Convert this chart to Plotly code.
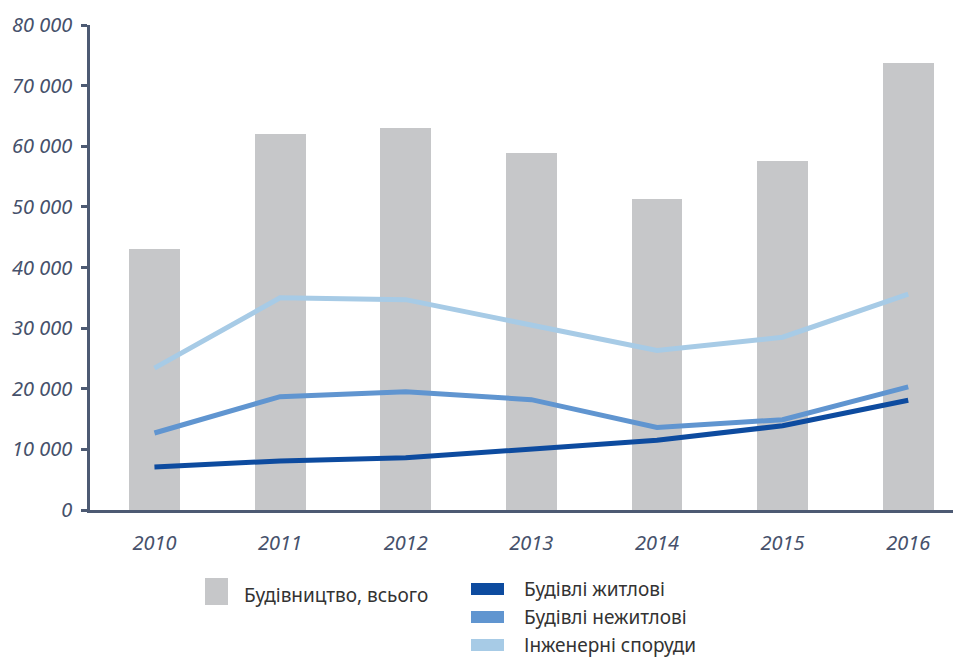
import plotly.graph_objects as go

years = [2010, 2011, 2012, 2013, 2014, 2015, 2016]
total = [43000, 62000, 63000, 58900, 51300, 57600, 73700]
residential = [7100, 8100, 8600, 10100, 11500, 13900, 18100]
nonresidential = [12700, 18700, 19500, 18200, 13600, 14900, 20300]
engineering = [23400, 35000, 34700, 30400, 26300, 28500, 35600]

y_tickvals = [0, 10000, 20000, 30000, 40000, 50000, 60000, 70000, 80000]
y_ticktext = ["0", "10 000", "20 000", "30 000", "40 000", "50 000", "60 000", "70 000", "80 000"]
x_ticktext = [str(y) for y in years]

names = ["Будівництво, всього", "Будівлі житлові", "Будівлі нежитлові", "Інженерні споруди"]
colors = ["#c6c7c9", "#0d4b9f", "#6095d0", "#a7cbe6"]

axis_color = "#4d5a73"
tick_font = dict(family="Noto Sans", size=20, color="#46516b", style="italic")
legend_font = dict(family="Noto Sans", size=19, color="#333333")

fig = go.Figure()
fig.add_trace(go.Bar(x=years, y=total, width=0.405, marker=dict(color=colors[0], line=dict(width=0)),
                     name=names[0], showlegend=False))
for vals, nm, col in [(engineering, names[3], colors[3]),
                      (nonresidential, names[2], colors[2]),
                      (residential, names[1], colors[1])]:
    fig.add_trace(go.Scatter(x=years, y=vals, mode="lines", name=nm,
                             line=dict(color=col, width=5), showlegend=False))

# page is shown with an 8px body margin; figure is sized to fill the rest
W, H = 953, 649
ML, MT, MB = 82, 17, 147
PW, PH = W - ML, H - MT - MB

def px(x):  # page x -> paper x
    return (x - 8 - ML) / PW
def py(y):  # page y -> paper y
    return (H - MB - (y - 8)) / PH

shapes = [dict(type="rect", xref="paper", yref="paper", x0=px(205), x1=px(228), y0=py(605), y1=py(578),
               fillcolor=colors[0], line=dict(width=0))]
annotations = [dict(xref="paper", yref="paper", x=px(242), y=py(595), text=names[0], showarrow=False,
                    xanchor="left", yanchor="middle", font=legend_font)]
for i, (nm, col) in enumerate(zip(names[1:], colors[1:])):
    cy = 589 + i * 28
    shapes.append(dict(type="rect", xref="paper", yref="paper", x0=px(471), x1=px(504),
                       y0=py(cy + 6), y1=py(cy - 6), fillcolor=col, line=dict(width=0)))
    annotations.append(dict(xref="paper", yref="paper", x=px(522), y=py(cy), text=nm, showarrow=False,
                            xanchor="left", yanchor="middle", font=legend_font))

fig.update_layout(
    width=W, height=H,
    margin=dict(l=ML, r=0, t=MT, b=MB),
    plot_bgcolor="white", paper_bgcolor="white",
    showlegend=False,
    bargap=0,
    shapes=shapes, annotations=annotations,
    xaxis=dict(range=[2009.487, 2016.42], tickvals=years, ticktext=x_ticktext,
               showline=True, linecolor=axis_color, linewidth=2.5, showgrid=False, zeroline=False,
               ticks="outside", ticklen=13, tickcolor="rgba(0,0,0,0)", tickfont=tick_font),
    yaxis=dict(range=[0, 80000], tickvals=y_tickvals, ticktext=y_ticktext,
               showline=True, linecolor=axis_color, linewidth=2.5, showgrid=False, zeroline=False,
               ticks="outside", ticklen=6, tickwidth=2.5, tickcolor=axis_color,
               ticklabelstandoff=5, tickfont=tick_font),
)

fig.write_html("out.html")
